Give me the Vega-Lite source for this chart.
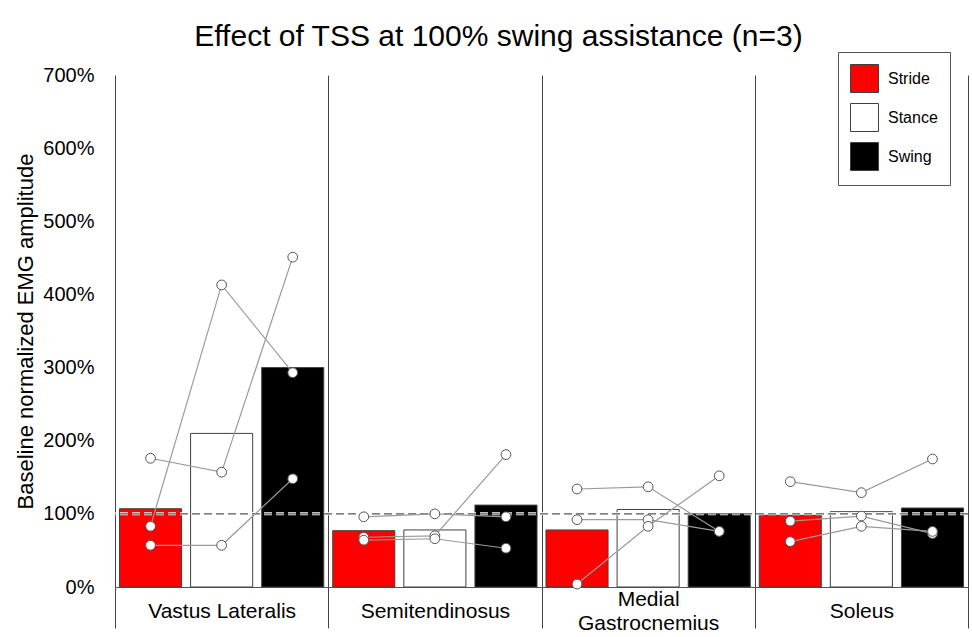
{
  "$schema": "https://vega.github.io/schema/vega-lite/v6.json",
  "autosize": "none",
  "width": 853,
  "height": 512,
  "padding": {"left": 115, "top": 75, "right": 4, "bottom": 50},
  "background": "white",
  "config": {
    "font": "Liberation Sans",
    "view": {"stroke": null}
  },
  "title": {
    "text": "Effect of TSS at 100% swing assistance (n=3)",
    "fontSize": 30,
    "fontWeight": "normal",
    "font": "Liberation Sans",
    "color": "black",
    "anchor": "middle",
    "frame": "group",
    "dx": -43,
    "offset": 0
  },
  "datasets": {
    "bars": [
      {"muscle": "Vastus Lateralis", "condition": "Stride", "ci": 0, "mean": 107},
      {"muscle": "Vastus Lateralis", "condition": "Stance", "ci": 1, "mean": 210},
      {"muscle": "Vastus Lateralis", "condition": "Swing", "ci": 2, "mean": 300},
      {"muscle": "Semitendinosus", "condition": "Stride", "ci": 0, "mean": 77},
      {"muscle": "Semitendinosus", "condition": "Stance", "ci": 1, "mean": 78},
      {"muscle": "Semitendinosus", "condition": "Swing", "ci": 2, "mean": 112},
      {"muscle": "Medial Gastrocnemius", "condition": "Stride", "ci": 0, "mean": 78},
      {"muscle": "Medial Gastrocnemius", "condition": "Stance", "ci": 1, "mean": 106},
      {"muscle": "Medial Gastrocnemius", "condition": "Swing", "ci": 2, "mean": 100},
      {"muscle": "Soleus", "condition": "Stride", "ci": 0, "mean": 98},
      {"muscle": "Soleus", "condition": "Stance", "ci": 1, "mean": 103},
      {"muscle": "Soleus", "condition": "Swing", "ci": 2, "mean": 108}
    ],
    "subjects": [
      {"muscle": "Vastus Lateralis", "subject": "A", "condition": "Stride", "ci": 0, "value": 176},
      {"muscle": "Vastus Lateralis", "subject": "A", "condition": "Stance", "ci": 1, "value": 157},
      {"muscle": "Vastus Lateralis", "subject": "A", "condition": "Swing", "ci": 2, "value": 451},
      {"muscle": "Vastus Lateralis", "subject": "B", "condition": "Stride", "ci": 0, "value": 83},
      {"muscle": "Vastus Lateralis", "subject": "B", "condition": "Stance", "ci": 1, "value": 413},
      {"muscle": "Vastus Lateralis", "subject": "B", "condition": "Swing", "ci": 2, "value": 293},
      {"muscle": "Vastus Lateralis", "subject": "C", "condition": "Stride", "ci": 0, "value": 57},
      {"muscle": "Vastus Lateralis", "subject": "C", "condition": "Stance", "ci": 1, "value": 57},
      {"muscle": "Vastus Lateralis", "subject": "C", "condition": "Swing", "ci": 2, "value": 148},
      {"muscle": "Semitendinosus", "subject": "A", "condition": "Stride", "ci": 0, "value": 96},
      {"muscle": "Semitendinosus", "subject": "A", "condition": "Stance", "ci": 1, "value": 100},
      {"muscle": "Semitendinosus", "subject": "A", "condition": "Swing", "ci": 2, "value": 96},
      {"muscle": "Semitendinosus", "subject": "B", "condition": "Stride", "ci": 0, "value": 68},
      {"muscle": "Semitendinosus", "subject": "B", "condition": "Stance", "ci": 1, "value": 70},
      {"muscle": "Semitendinosus", "subject": "B", "condition": "Swing", "ci": 2, "value": 181},
      {"muscle": "Semitendinosus", "subject": "C", "condition": "Stride", "ci": 0, "value": 64},
      {"muscle": "Semitendinosus", "subject": "C", "condition": "Stance", "ci": 1, "value": 66},
      {"muscle": "Semitendinosus", "subject": "C", "condition": "Swing", "ci": 2, "value": 53},
      {"muscle": "Medial Gastrocnemius", "subject": "A", "condition": "Stride", "ci": 0, "value": 134},
      {"muscle": "Medial Gastrocnemius", "subject": "A", "condition": "Stance", "ci": 1, "value": 137},
      {"muscle": "Medial Gastrocnemius", "subject": "A", "condition": "Swing", "ci": 2, "value": 76},
      {"muscle": "Medial Gastrocnemius", "subject": "B", "condition": "Stride", "ci": 0, "value": 92},
      {"muscle": "Medial Gastrocnemius", "subject": "B", "condition": "Stance", "ci": 1, "value": 92},
      {"muscle": "Medial Gastrocnemius", "subject": "B", "condition": "Swing", "ci": 2, "value": 76},
      {"muscle": "Medial Gastrocnemius", "subject": "C", "condition": "Stride", "ci": 0, "value": 4},
      {"muscle": "Medial Gastrocnemius", "subject": "C", "condition": "Stance", "ci": 1, "value": 83},
      {"muscle": "Medial Gastrocnemius", "subject": "C", "condition": "Swing", "ci": 2, "value": 152},
      {"muscle": "Soleus", "subject": "A", "condition": "Stride", "ci": 0, "value": 144},
      {"muscle": "Soleus", "subject": "A", "condition": "Stance", "ci": 1, "value": 129},
      {"muscle": "Soleus", "subject": "A", "condition": "Swing", "ci": 2, "value": 175},
      {"muscle": "Soleus", "subject": "B", "condition": "Stride", "ci": 0, "value": 90},
      {"muscle": "Soleus", "subject": "B", "condition": "Stance", "ci": 1, "value": 97},
      {"muscle": "Soleus", "subject": "B", "condition": "Swing", "ci": 2, "value": 73},
      {"muscle": "Soleus", "subject": "C", "condition": "Stride", "ci": 0, "value": 62},
      {"muscle": "Soleus", "subject": "C", "condition": "Stance", "ci": 1, "value": 83},
      {"muscle": "Soleus", "subject": "C", "condition": "Swing", "ci": 2, "value": 76}
    ],
    "ref": [{"y": 100}]
  },
  "encoding": {
    "x": {
      "field": "muscle",
      "type": "nominal",
      "sort": ["Vastus Lateralis", "Semitendinosus", "Medial Gastrocnemius", "Soleus"],
      "scale": {"paddingInner": 0, "paddingOuter": 0},
      "axis": {
        "title": null,
        "labelAngle": 0,
        "labelFontSize": 21,
        "labelColor": "black",
        "labelBaseline": "middle",
        "labelLineHeight": 24,
        "labelPadding": {"condition": {"test": "datum.value == 'Medial Gastrocnemius'", "value": -29}, "value": -17},
        "labelExpr": "datum.value == 'Medial Gastrocnemius' ? ['Medial', 'Gastrocnemius'] : datum.label",
        "domainColor": "#555555",
        "ticks": true,
        "tickBand": "extent",
        "tickSize": 41,
        "tickColor": "#444444",
        "grid": true,
        "gridColor": "#444444",
        "gridOpacity": 1
      }
    },
    "xOffset": {
      "field": "condition",
      "type": "nominal",
      "sort": ["Stride", "Stance", "Swing"],
      "scale": {"paddingInner": 0.127, "paddingOuter": 0.063}
    }
  },
  "layer": [
    {
      "data": {"name": "bars"},
      "mark": {"type": "bar", "stroke": "#404040", "strokeWidth": 1},
      "encoding": {
        "y": {
          "field": "mean",
          "type": "quantitative",
          "scale": {"domain": [0, 700], "nice": false},
          "axis": {
            "title": "Baseline normalized EMG amplitude",
            "titleFontSize": 22,
            "titleFontWeight": "normal",
            "titleColor": "black",
            "titlePadding": 5,
            "values": [0, 100, 200, 300, 400, 500, 600, 700],
            "labelExpr": "datum.value + '%'",
            "labelFontSize": 20,
            "labelColor": "black",
            "labelPadding": 21,
            "ticks": false,
            "domain": false,
            "grid": false
          }
        },
        "fill": {
          "field": "condition",
          "type": "nominal",
          "sort": ["Stride", "Stance", "Swing"],
          "scale": {"domain": ["Stride", "Stance", "Swing"], "range": ["#ff0000", "#ffffff", "#000000"]},
          "legend": {
            "title": null,
            "orient": "none",
            "legendX": 723,
            "legendY": -23,
            "symbolType": "square",
            "symbolSize": 784,
            "symbolStrokeColor": "#404040",
            "symbolStrokeWidth": 1,
            "labelFontSize": 16,
            "labelColor": "black",
            "labelOffset": 9,
            "rowPadding": 6,
            "padding": 12,
            "strokeColor": "#555555",
            "fillColor": "white"
          }
        }
      }
    },
    {
      "data": {"name": "ref"},
      "mark": {"type": "rule", "color": "white", "strokeWidth": 3, "strokeDash": [8, 4]},
      "encoding": {"y": {"field": "y", "type": "quantitative"}, "x": null, "xOffset": null}
    },
    {
      "data": {"name": "ref"},
      "mark": {"type": "rule", "color": "#555555", "strokeWidth": 1.3, "strokeDash": [8, 4]},
      "encoding": {"y": {"field": "y", "type": "quantitative"}, "x": null, "xOffset": null}
    },
    {
      "data": {"name": "subjects"},
      "mark": {"type": "line", "color": "#9a9a9a", "strokeWidth": 1.2},
      "encoding": {
        "y": {"field": "value", "type": "quantitative"},
        "detail": [{"field": "muscle"}, {"field": "subject"}],
        "order": {"field": "ci", "type": "quantitative"}
      }
    },
    {
      "data": {"name": "subjects"},
      "mark": {"type": "point", "shape": "circle", "filled": true, "fill": "white", "stroke": "#555555", "strokeWidth": 1, "size": 95, "opacity": 1},
      "encoding": {
        "y": {"field": "value", "type": "quantitative"}
      }
    }
  ]
}
